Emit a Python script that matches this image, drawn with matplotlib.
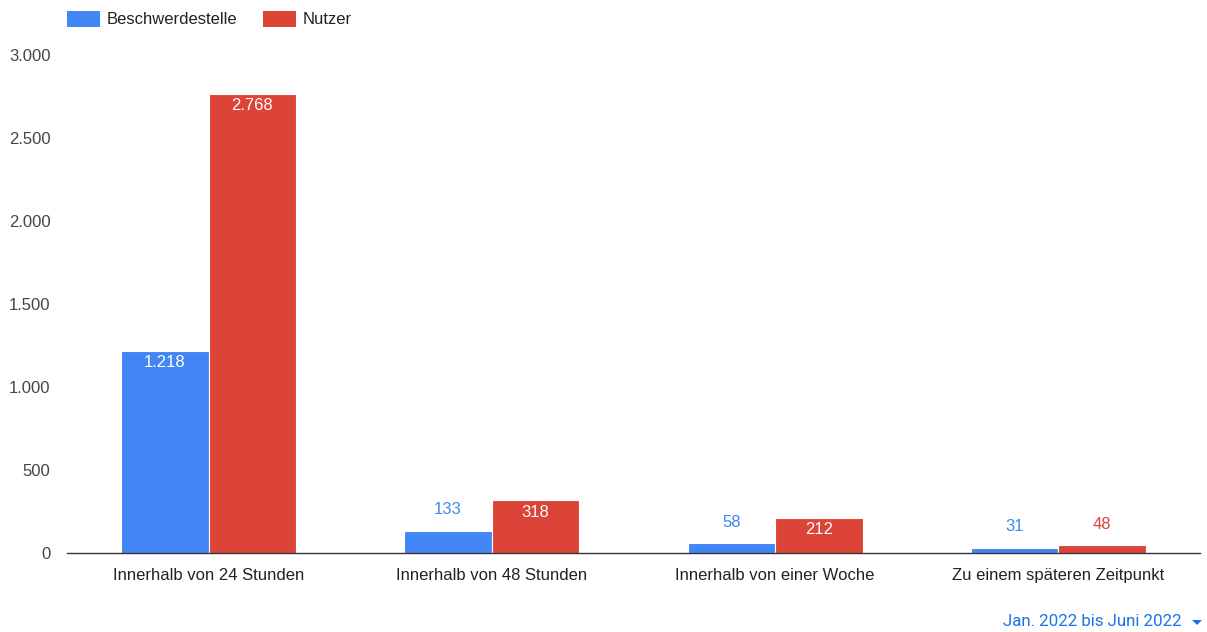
import matplotlib
matplotlib.use("Agg")
import matplotlib.pyplot as plt
from matplotlib.patches import Rectangle, Polygon
import numpy as np

plt.rcParams["font.family"] = ["Liberation Sans", "DejaVu Sans"]

CATEGORIES = [
    "Innerhalb von 24 Stunden",
    "Innerhalb von 48 Stunden",
    "Innerhalb von einer Woche",
    "Zu einem späteren Zeitpunkt",
]
BESCHWERDESTELLE = [1218, 133, 58, 31]
NUTZER = [2768, 318, 212, 48]
SERIES_NAMES = ["Beschwerdestelle", "Nutzer"]
Y_TICKS = [0, 500, 1000, 1500, 2000, 2500, 3000]
PERIOD = "Jan. 2022 bis Juni 2022"

BLUE = "#4285f4"
RED = "#db4437"
LINK = "#1a73e8"


def de_num(v):
    return f"{int(v):,}".replace(",", ".")


W, H = 1207, 632
fig = plt.figure(figsize=(W / 100, H / 100), dpi=100)
ax = fig.add_axes([67 / W, 1 - 553 / H, (1200 - 67) / W, (553 - 55) / H])

x = np.arange(len(CATEGORIES))
bw = 0.309
for vals, color, off in [(BESCHWERDESTELLE, BLUE, -bw / 2), (NUTZER, RED, bw / 2)]:
    bars = ax.bar(x + off, vals, width=bw, color=color, edgecolor="white", linewidth=0.8, zorder=2)
    for bar, v in zip(bars, vals):
        cx = bar.get_x() + bar.get_width() / 2
        if v > 150:
            # tall enough: white label inside the bar top
            ax.annotate(de_num(v), (cx, v), xytext=(0, -12), textcoords="offset pixels",
                        ha="center", va="center", color="white", fontsize=12)
        else:
            ax.annotate(de_num(v), (cx, v), xytext=(0, 21), textcoords="offset pixels",
                        ha="center", va="center", color=color, fontsize=12)

ax.set_xlim(-0.5, len(CATEGORIES) - 0.5)
ax.set_ylim(0, 3000)
ax.set_yticks(Y_TICKS)
ax.set_yticklabels([de_num(t) for t in Y_TICKS])
ax.set_xticks(x)
ax.set_xticklabels(CATEGORIES)
ax.tick_params(axis="y", length=0, pad=12, labelsize=12, labelcolor="#444444")
ax.tick_params(axis="x", length=0, pad=10.5, labelsize=12, labelcolor="#222222")
for s in ["top", "right", "left"]:
    ax.spines[s].set_visible(False)
ax.spines["bottom"].set_color("#333333")
ax.spines["bottom"].set_linewidth(1.0)
ax.spines["bottom"].set_zorder(3)

# legend
for (x0, name, color) in [(67, SERIES_NAMES[0], BLUE), (263, SERIES_NAMES[1], RED)]:
    fig.add_artist(Rectangle((x0 / W, 1 - 27 / H), 33 / W, 16 / H,
                             transform=fig.transFigure, facecolor=color, edgecolor="none"))
    fig.text((x0 + 40) / W, 1 - 19 / H, name, ha="left", va="center",
             fontsize=12, color="#222222")

# period selector
fig.text(1182 / W, 1 - 622 / H, PERIOD, ha="right", va="center",
         fontsize=12.2, color=LINK, family=["Roboto", "DejaVu Sans"])
tri = [(1192 / W, 1 - 620 / H), (1202 / W, 1 - 620 / H), (1197 / W, 1 - 625 / H)]
fig.add_artist(Polygon(tri, closed=True, transform=fig.transFigure,
                       facecolor=LINK, edgecolor="none"))

fig.savefig("out.png", dpi=100)
